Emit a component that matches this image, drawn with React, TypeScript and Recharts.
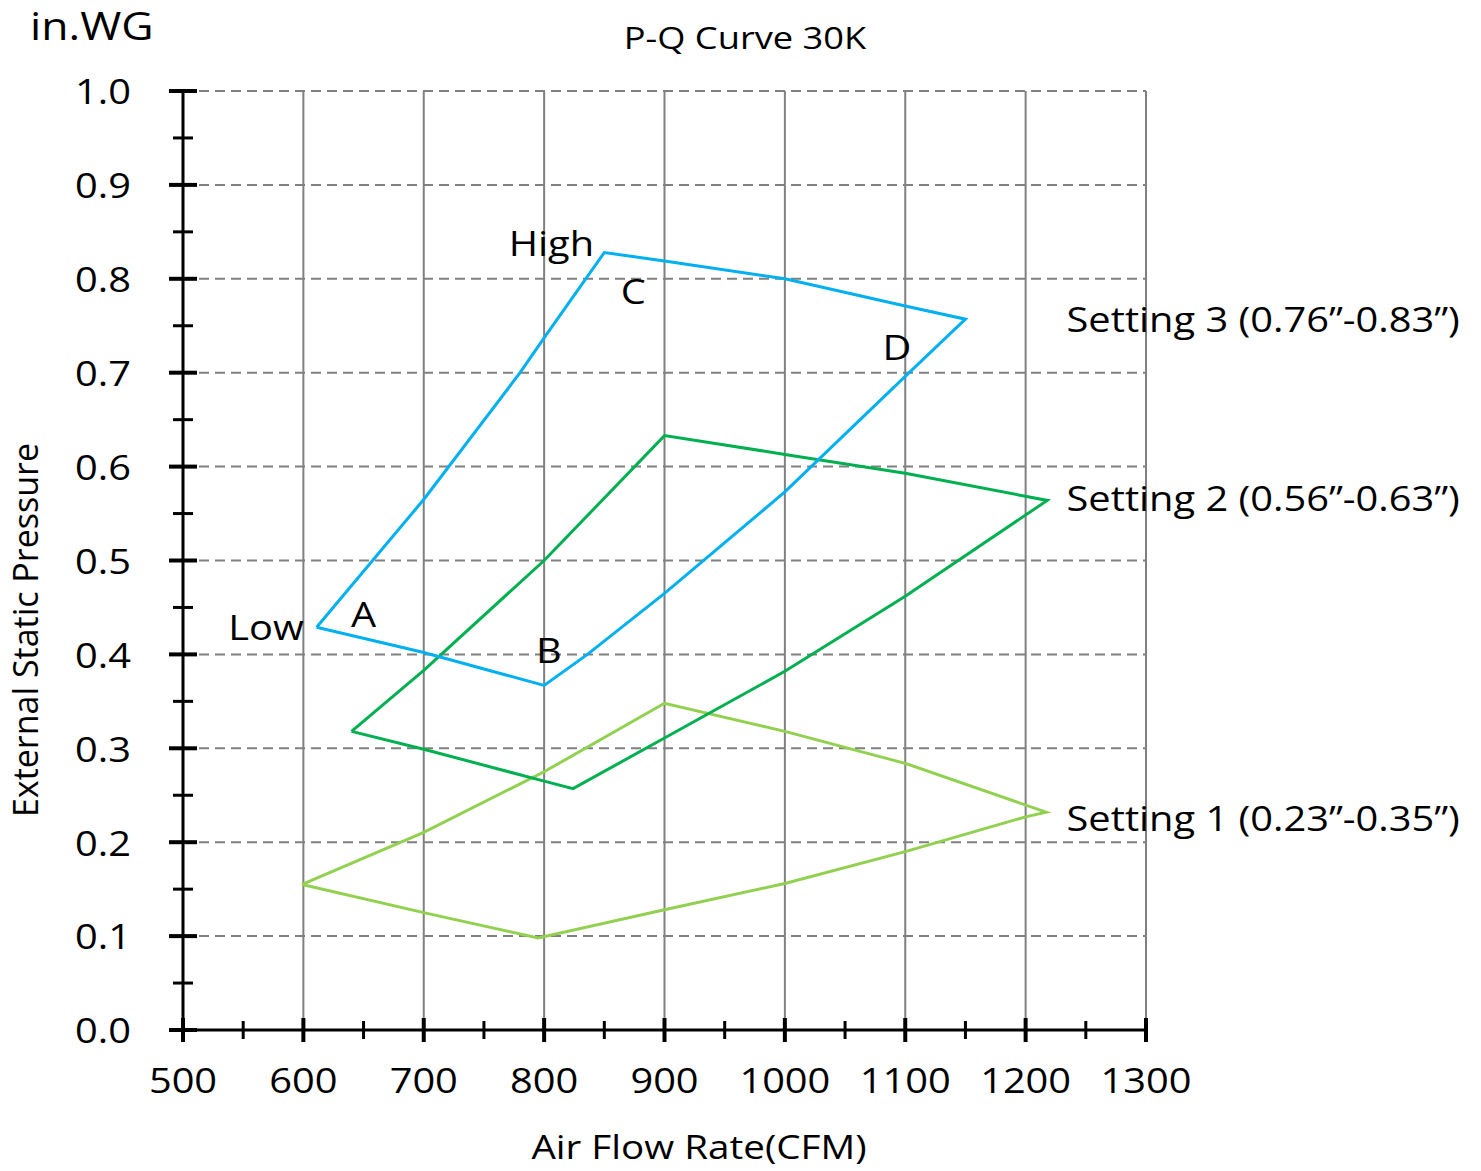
import { LineChart, Line, XAxis, YAxis, ReferenceLine, ReferenceDot } from "recharts";

// axis ticks (major every 100 CFM / 0.1 in.WG, minor halfway)
const xTicks = [500, 550, 600, 650, 700, 750, 800, 850, 900, 950, 1000, 1050, 1100, 1150, 1200, 1250, 1300];
const yTicks = [0, 0.05, 0.1, 0.15, 0.2, 0.25, 0.3, 0.35, 0.4, 0.45, 0.5, 0.55, 0.6, 0.65, 0.7, 0.75, 0.8, 0.85, 0.9, 0.95, 1.0];
const xGrid = [600, 700, 800, 900, 1000, 1100, 1200, 1300];
const yGrid = [0.1, 0.2, 0.3, 0.4, 0.5, 0.6, 0.7, 0.8, 0.9, 1.0];

// Setting 3 envelope: Low -> High -> right -> B -> Low
const setting3Flow = [611, 700, 780, 800, 850, 900, 1000, 1100, 1150, 1100, 1000, 900, 836, 800, 700, 611];
const setting3Pressure = [0.429, 0.565, 0.7, 0.737, 0.828, 0.819, 0.8, 0.771, 0.757, 0.696, 0.573, 0.465, 0.4, 0.367, 0.402, 0.429];

// Setting 2 envelope
const setting2Flow = [640, 700, 800, 900, 1000, 1100, 1218, 1100, 1000, 900, 824, 800, 700, 640];
const setting2Pressure = [0.318, 0.383, 0.5, 0.633, 0.613, 0.593, 0.564, 0.462, 0.382, 0.311, 0.257, 0.265, 0.299, 0.318];

// Setting 1 envelope
const setting1Flow = [599, 700, 800, 900, 1000, 1100, 1217, 1200, 1100, 1000, 900, 795, 700, 599];
const setting1Pressure = [0.155, 0.2105, 0.275, 0.348, 0.318, 0.284, 0.232, 0.227, 0.19, 0.156, 0.128, 0.098, 0.125, 0.155];

// text annotations (data coordinates)
const pointLabels = [
  { text: "High", flow: 806, pressure: 0.839 },
  { text: "C", flow: 874, pressure: 0.787 },
  { text: "D", flow: 1093, pressure: 0.728 },
  { text: "A", flow: 650, pressure: 0.443 },
  { text: "B", flow: 804, pressure: 0.405 },
  { text: "Low", flow: 569, pressure: 0.429 },
];
const settingLabels = [
  { text: "Setting 3 (0.76”-0.83”)", flow: 1234, pressure: 0.758 },
  { text: "Setting 2 (0.56”-0.63”)", flow: 1234, pressure: 0.5666 },
  { text: "Setting 1 (0.23”-0.35”)", flow: 1234, pressure: 0.2258 },
];

const FONT = "'Open Sans', Lato, sans-serif";
// the source image is a little wider than tall, so text is stretched sideways
const SX = 1.17;

const SText = ({ x, y, anchor = "middle", size = 34, children }: any) => (
  <text
    transform={`translate(${x} ${y}) scale(${SX} 1)`}
    textAnchor={anchor}
    dominantBaseline="central"
    fontSize={size}
    fontFamily={FONT}
    fill="#000"
  >
    {children}
  </text>
);

const toPoints = (flow: number[], pressure: number[]) =>
  flow.map((f, i) => ({ flow: f, pressure: pressure[i] }));

const XTick = (props: any) => {
  const { x, y, payload } = props;
  const major = payload.value % 100 === 0;
  const h = major ? 12 : 9;
  return (
    <g>
      <line x1={x} x2={x} y1={y - h} y2={y + h} stroke="#000" strokeWidth={major ? 4 : 3} />
      {major && <SText x={x} y={y + 50}>{payload.value}</SText>}
    </g>
  );
};

const YTick = (props: any) => {
  const { x, y, payload } = props;
  const major = Math.round(payload.value * 100) % 10 === 0;
  const w = major ? 14 : 10;
  return (
    <g>
      <line x1={x - w} x2={x + w} y1={y} y2={y} stroke="#000" strokeWidth={major ? 4 : 3} />
      {major && (
        <SText x={x - 52} y={y} anchor="end">
          {payload.value.toFixed(1)}
        </SText>
      )}
    </g>
  );
};

export default function App() {
  return (
    <div style={{ position: "absolute", left: 0, top: 0, width: 1481, height: 1171, background: "#fff" }}>
      <LineChart width={1481} height={1171} margin={{ top: 91, right: 335, bottom: 81, left: 123 }}>
        {xGrid.map((v) => (
          <ReferenceLine key={"gx" + v} x={v} stroke="#808080" strokeWidth={2} />
        ))}
        {yGrid.map((v) => (
          <ReferenceLine key={"gy" + v} y={v} stroke="#808080" strokeWidth={2} strokeDasharray="10 6" />
        ))}
        <XAxis
          dataKey="flow"
          type="number"
          domain={[500, 1300]}
          ticks={xTicks}
          interval={0}
          height={60}
          tickSize={0}
          tickMargin={0}
          tickLine={false}
          axisLine={{ stroke: "#000", strokeWidth: 3 }}
          tick={<XTick />}
          allowDataOverflow
        />
        <YAxis
          dataKey="pressure"
          type="number"
          domain={[0, 1]}
          ticks={yTicks}
          interval={0}
          width={60}
          tickSize={0}
          tickMargin={0}
          tickLine={false}
          axisLine={{ stroke: "#000", strokeWidth: 3 }}
          tick={<YTick />}
          allowDataOverflow
        />
        <Line data={toPoints(setting1Flow, setting1Pressure)} dataKey="pressure" type="linear" stroke="#92D050" strokeWidth={3} dot={false} isAnimationActive={false} />
        <Line data={toPoints(setting2Flow, setting2Pressure)} dataKey="pressure" type="linear" stroke="#00B050" strokeWidth={3} dot={false} isAnimationActive={false} />
        <Line data={toPoints(setting3Flow, setting3Pressure)} dataKey="pressure" type="linear" stroke="#00B0F0" strokeWidth={3} dot={false} isAnimationActive={false} />
        {pointLabels.map((l) => (
          <ReferenceDot
            key={l.text}
            x={l.flow}
            y={l.pressure}
            r={0}
            shape={(p: any) => <SText x={p.cx} y={p.cy}>{l.text}</SText>}
          />
        ))}
        {settingLabels.map((l) => (
          <ReferenceDot
            key={l.text}
            x={l.flow}
            y={l.pressure}
            r={0}
            shape={(p: any) => (
              <SText x={p.cx} y={p.cy} anchor="start" size={34}>
                {l.text}
              </SText>
            )}
          />
        ))}
      </LineChart>
      <svg width={1481} height={1171} style={{ position: "absolute", left: 0, top: 0, pointerEvents: "none" }}>
        <SText x={30} y={25} anchor="start" size={38}>in.WG</SText>
        <SText x={745} y={37} size={31}>P-Q Curve 30K</SText>
        <text
          x={25}
          y={630}
          textAnchor="middle"
          dominantBaseline="central"
          fontSize={34}
          fontFamily={FONT}
          fill="#000"
          transform="rotate(-90 25 630)"
        >
          External Static Pressure
        </text>
        <SText x={699} y={1147} size={33}>Air Flow Rate(CFM)</SText>
      </svg>
    </div>
  );
}
